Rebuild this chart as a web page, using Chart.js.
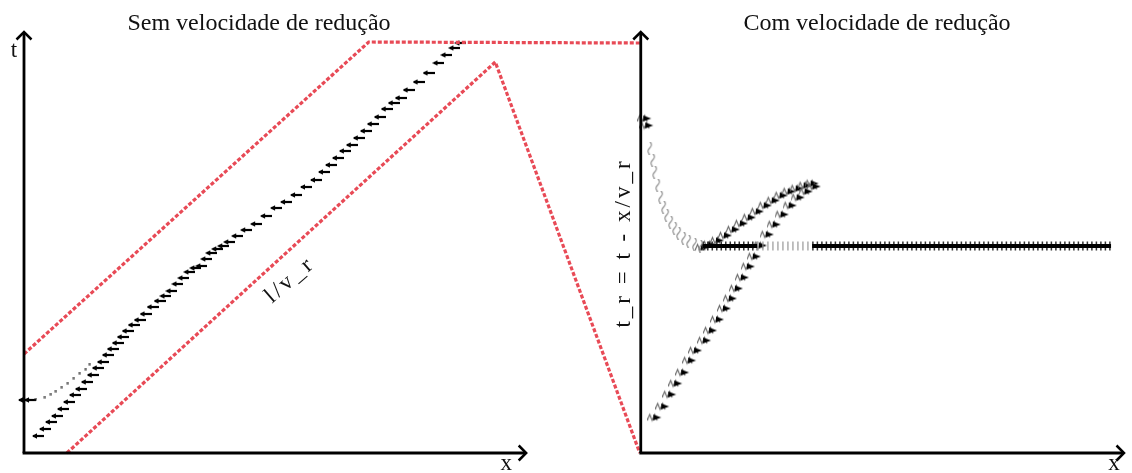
<!DOCTYPE html>
<html>
<head>
<meta charset="utf-8">
<title>Sem / Com velocidade de redução</title>
<script src="https://cdn.jsdelivr.net/npm/chart.js@4/dist/chart.umd.min.js"></script>
<style>
  html, body { margin: 0; padding: 0; background: #ffffff; }
  #wrap { width: 1132px; height: 473px; position: relative; }
</style>
</head>
<body>
<div id="wrap"><canvas id="c" width="1132" height="473"></canvas></div>
<script>
// Shared coordinate frame: both panels live on one x / t plane.
// Left panel origin at x = 0, right panel origin at x = 61.9.

// Left panel: characteristic envelopes (red dashed)
const upperEnvX = [0, 34.6, 61.9];
const upperEnvT = [9.9, 41.1, 41.0];
const lowerEnvX = [4.3, 47.3, 61.8];
const lowerEnvT = [0, 39.1, 0];

// Left panel: particle track (x, t)
const trackX = [1.4, 2.1, 2.7, 3.3, 3.9, 4.5, 5.1, 5.7, 6.3, 6.9, 7.4, 7.9, 8.4, 8.9, 9.4, 9.9,
  10.4, 11.0, 11.6, 12.2, 12.9, 13.6, 14.2, 14.8, 15.4, 16.0, 16.6, 17.2, 17.8, 18.3, 18.8, 19.4,
  20.0, 20.6, 21.4, 22.3, 23.3, 24.3, 25.3, 26.3, 27.3, 28.3, 29.3, 30.1, 30.8, 31.5, 32.2, 32.9,
  33.6, 34.3, 35.0, 35.7, 36.4, 37.1, 37.8, 38.6, 39.6, 40.6, 41.6, 42.4, 43.2, 43.8];
const trackT = [1.7, 2.4, 3.1, 3.7, 4.4, 5.1, 5.8, 6.4, 7.1, 7.8, 8.5, 9.1, 9.8, 10.4, 11.0, 11.6,
  12.2, 12.8, 13.3, 13.9, 14.6, 15.2, 15.7, 16.2, 16.9, 17.5, 18.1, 18.5, 18.7, 19.4, 20.0, 20.4,
  20.7, 21.1, 21.7, 22.3, 22.9, 23.7, 24.5, 25.1, 25.8, 26.6, 27.3, 28.1, 28.8, 29.5, 30.2, 30.8,
  31.5, 32.2, 32.9, 33.6, 34.4, 35.0, 35.5, 36.3, 37.1, 38.0, 39.0, 39.8, 40.5, 41.0];

// Left panel: faint secondary branch
const branchX = [0, 0.6, 1.2, 2.1, 2.7, 3.2, 3.8, 4.4, 5.0, 5.6, 6.2, 6.6];
const branchT = [5.3, 5.3, 5.4, 5.6, 5.9, 6.2, 6.6, 7.0, 7.5, 8.0, 8.4, 8.9];

// Right panel: relaxing curve t_r(x)
const relaxX = [62.3, 62.5, 62.8, 63.1, 63.3, 63.6, 63.9, 64.2, 64.5, 64.9, 65.3, 65.7, 66.2, 66.7, 67.3, 67.9];
const relaxT = [33.5, 32.8, 30.5, 29.3, 28.1, 26.8, 25.6, 24.6, 23.8, 23.1, 22.5, 22.0, 21.5, 21.2, 20.9, 20.7];

// Right panel: plateau level and its segments
const plateauT = 20.7;
const plateauDenseA = [68.1, 73.6];
const plateauFaint = [73.6, 79.1];
const plateauDenseB = [79.1, 109.1];

// Right panel: rising branches
const riseLowX = [63.3, 64.1, 64.8, 65.4, 66.1, 66.8, 67.4, 68.3, 68.9, 69.6, 70.3, 70.9, 71.5, 72.1,
  72.7, 73.3, 73.9, 74.6, 75.3, 76.1, 76.9, 77.7, 78.5, 79.3];
const riseLowT = [3.6, 4.7, 5.9, 7.0, 8.1, 9.3, 10.3, 11.3, 12.3, 13.4, 14.5, 15.5, 16.5, 17.6,
  18.7, 19.7, 20.8, 21.9, 22.9, 23.9, 24.8, 25.6, 26.2, 26.7];
const riseHighX = [68.1, 68.8, 69.6, 70.4, 71.2, 72.0, 72.8, 73.6, 74.4, 75.2, 76.0, 76.8, 77.6, 78.4, 79.1];
const riseHighT = [20.6, 20.9, 21.3, 21.8, 22.4, 23.0, 23.6, 24.2, 24.8, 25.3, 25.8, 26.2, 26.5, 26.8, 27.0];

// Axes frames
const leftOriginX = 0, leftAxisEndX = 50.4;
const rightOriginX = 61.9, rightAxisEndX = 110.4;
const axisTopT = 42.1;

const zip = (xs, ys) => xs.map((x, i) => ({ x, y: ys[i] }));
const flat = (xs, t) => xs.map(x => ({ x, y: t }));

// Marker glyphs
function glyph(w, h, draw) {
  const c = document.createElement('canvas');
  c.width = w; c.height = h;
  draw(c.getContext('2d'));
  return c;
}
const dashMark = glyph(12, 6, g => {
  g.strokeStyle = '#000'; g.lineWidth = 2.2;
  g.beginPath(); g.moveTo(1, 3); g.lineTo(12, 3); g.stroke();
  g.fillStyle = '#000';
  g.beginPath(); g.moveTo(0, 3); g.lineTo(5, 0.2); g.lineTo(5, 5.8); g.closePath(); g.fill();
});
const dotMark = glyph(3, 3, g => { g.fillStyle = '#222'; g.fillRect(0.5, 0.5, 2, 2); });
const zigMark = glyph(15, 11, g => {
  g.strokeStyle = '#666'; g.lineWidth = 1.1;
  g.beginPath(); g.moveTo(0, 9); g.lineTo(2.5, 3); g.lineTo(5, 9); g.lineTo(7.5, 3); g.lineTo(10, 9); g.stroke();
  g.fillStyle = '#000';
  g.beginPath(); g.moveTo(6, 3); g.lineTo(14, 6); g.lineTo(6, 9); g.closePath(); g.fill();
});
const squiggleMark = glyph(7, 13, g => {
  g.strokeStyle = '#888'; g.lineWidth = 1.1;
  g.beginPath(); g.moveTo(3.5, 0); g.quadraticCurveTo(7, 3.2, 3.5, 6.5); g.quadraticCurveTo(0, 9.8, 3.5, 13); g.stroke();
});

const serif = '"Liberation Serif", "DejaVu Serif", serif';

// Axes with arrowheads and all annotations
const annotate = {
  id: 'annotate',
  afterDatasetsDraw(chart) {
    const { ctx, scales: { x, y } } = chart;
    const px = v => x.getPixelForValue(v);
    const py = v => y.getPixelForValue(v);
    ctx.save();
    ctx.strokeStyle = '#000'; ctx.lineWidth = 2.8; ctx.lineCap = 'butt'; ctx.lineJoin = 'miter';
    const axes = [[leftOriginX, leftAxisEndX], [rightOriginX, rightAxisEndX]];
    axes.forEach(([x0, x1]) => {
      const ox = px(x0), oy = py(0), ex = px(x1), ty = py(axisTopT);
      ctx.beginPath(); ctx.moveTo(ox, oy); ctx.lineTo(ox, ty + 1); ctx.stroke();
      ctx.beginPath(); ctx.moveTo(ox - 1.4, oy); ctx.lineTo(ex - 1, oy); ctx.stroke();
      ctx.lineWidth = 2.5;
      ctx.beginPath(); ctx.moveTo(ox - 7.5, ty + 7.5); ctx.lineTo(ox, ty); ctx.lineTo(ox + 7.5, ty + 7.5); ctx.stroke();
      ctx.beginPath(); ctx.moveTo(ex - 7.5, oy - 7.5); ctx.lineTo(ex, oy); ctx.lineTo(ex - 7.5, oy + 7.5); ctx.stroke();
      ctx.lineWidth = 2.8;
    });

    ctx.fillStyle = '#111';
    ctx.textAlign = 'center'; ctx.textBaseline = 'middle';
    ctx.font = '24px ' + serif;
    ctx.fillText('Sem velocidade de redução', 259, 24);
    ctx.fillText('Com velocidade de redução', 877, 24);

    ctx.font = '23px ' + serif;
    ctx.fillText('t', px(leftOriginX) - 10, py(axisTopT) + 19);
    ctx.fillText('x', px(leftAxisEndX) - 20, py(0) + 11);
    ctx.fillText('x', px(rightAxisEndX) - 10, py(0) + 11);

    ctx.save();
    ctx.letterSpacing = '3px';
    ctx.translate(px(rightOriginX) - 17, 243);
    ctx.rotate(-Math.PI / 2);
    ctx.fillText('t_r = t - x/v_r', 0, 0);
    ctx.restore();

    ctx.save();
    ctx.letterSpacing = '3px';
    ctx.translate(290, 280);
    ctx.rotate(-41 * Math.PI / 180);
    ctx.fillText('l/v_r', 0, 0);
    ctx.restore();
    ctx.restore();
  }
};

const red = '#e84a56';
const envStyle = {
  showLine: true, borderColor: red, borderWidth: 3.2, borderDash: [4, 2],
  pointRadius: 0, fill: false, tension: 0, clip: false
};

new Chart(document.getElementById('c'), {
  type: 'scatter',
  data: {
    datasets: [
      { ...envStyle, data: zip(upperEnvX, upperEnvT) },
      { ...envStyle, data: zip(lowerEnvX, lowerEnvT) },
      { data: zip(branchX, branchT), pointStyle: ctx => ctx.dataIndex < 2 ? dashMark : dotMark, pointRadius: 3, clip: false },
      { data: zip(trackX, trackT), pointStyle: dashMark, pointRadius: 6, clip: false },
      { data: zip(relaxX, relaxT), pointStyle: ctx => ctx.dataIndex < 2 ? zigMark : squiggleMark, pointRadius: 6, clip: false },
      { data: flat(plateauFaint, plateauT), showLine: true, borderColor: '#999', borderWidth: 9, borderDash: [1.2, 3.8], pointRadius: 0, clip: false },
      { data: flat(plateauDenseA, plateauT), showLine: true, borderColor: '#000', borderWidth: 4, pointRadius: 0, clip: false },
      { data: flat(plateauDenseA, plateauT), showLine: true, borderColor: '#333', borderWidth: 9, borderDash: [1.5, 3], pointRadius: 0, clip: false },
      { data: flat(plateauDenseB, plateauT), showLine: true, borderColor: '#000', borderWidth: 4, pointRadius: 0, clip: false },
      { data: flat(plateauDenseB, plateauT), showLine: true, borderColor: '#333', borderWidth: 9, borderDash: [1.5, 3], pointRadius: 0, clip: false },
      { data: zip(riseLowX, riseLowT), pointStyle: zigMark, pointRadius: 7, clip: false },
      { data: zip(riseHighX, riseHighT), pointStyle: zigMark, pointRadius: 7, clip: false }
    ]
  },
  options: {
    responsive: false,
    animation: false,
    layout: { padding: { left: 24, right: 4, top: 32, bottom: 20 } },
    plugins: { legend: { display: false }, tooltip: { enabled: false } },
    scales: {
      x: { type: 'linear', min: 0, max: 110.4, display: false },
      y: { type: 'linear', min: 0, max: 42.1, display: false }
    }
  },
  plugins: [annotate]
});
</script>
</body>
</html>
